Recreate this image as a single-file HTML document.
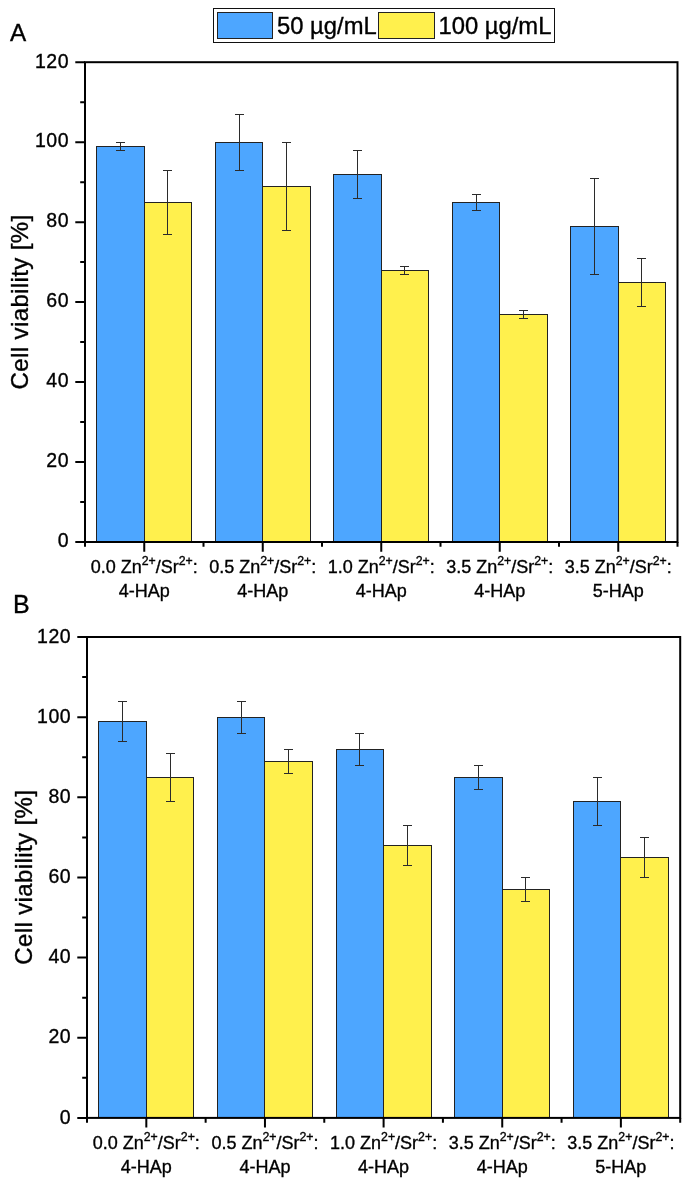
<!DOCTYPE html>
<html><head><meta charset="utf-8"><title>Cell viability</title>
<style>
html,body{margin:0;padding:0;background:#fff}
svg{display:block}
text{font-family:"Liberation Sans",Arial,sans-serif;fill:#000;stroke:#000;stroke-width:0.35px}
.tk{font-size:19.5px;letter-spacing:0.5px}
.xl{font-size:18px}
.sup{font-size:12.3px}
.yl{font-size:24px}
.lg{font-size:23.8px}
.pn{font-size:25px}
</style></head><body>
<svg width="690" height="1182" viewBox="0 0 690 1182">
<rect width="690" height="1182" fill="#fff"/>
<g shape-rendering="crispEdges"><rect x="213.5" y="8.5" width="341" height="34" fill="#fff" stroke="#111" stroke-width="1"/>
<rect x="217.5" y="12.5" width="55" height="26" fill="#4DA6FF" stroke="#222" stroke-width="1"/>
<rect x="378.5" y="12.5" width="56" height="26" fill="#FFF04D" stroke="#222" stroke-width="1"/></g>
<text class="lg" x="277" y="34.1">50 µg/mL</text>
<text class="lg" x="438.5" y="34.1">100 µg/mL</text>
<text class="pn" x="10" y="41.1" style="font-size:24.3px">A</text>
<text class="pn" x="12.9" y="613.1">B</text>
<g shape-rendering="crispEdges">
<rect x="96.5" y="146.5" width="48.0" height="395.50" fill="#4DA6FF" stroke="#222" stroke-width="1"/>
<rect x="144.5" y="202.5" width="47.0" height="339.50" fill="#FFF04D" stroke="#222" stroke-width="1"/>
<path d="M120.5 142.5V150.5M116.0 142.5h9M116.0 150.5h9" stroke="#2b2b2b" stroke-width="1" fill="none"/>
<path d="M167.5 170.5V234.5M163.0 170.5h9M163.0 234.5h9" stroke="#2b2b2b" stroke-width="1" fill="none"/>
<rect x="215.5" y="142.5" width="47.0" height="399.50" fill="#4DA6FF" stroke="#222" stroke-width="1"/>
<rect x="262.5" y="186.5" width="48.0" height="355.50" fill="#FFF04D" stroke="#222" stroke-width="1"/>
<path d="M239.5 114.5V170.5M235.0 114.5h9M235.0 170.5h9" stroke="#2b2b2b" stroke-width="1" fill="none"/>
<path d="M286.5 142.5V230.5M282.0 142.5h9M282.0 230.5h9" stroke="#2b2b2b" stroke-width="1" fill="none"/>
<rect x="333.5" y="174.5" width="48.0" height="367.50" fill="#4DA6FF" stroke="#222" stroke-width="1"/>
<rect x="381.5" y="270.5" width="47.0" height="271.50" fill="#FFF04D" stroke="#222" stroke-width="1"/>
<path d="M357.5 150.5V198.5M353.0 150.5h9M353.0 198.5h9" stroke="#2b2b2b" stroke-width="1" fill="none"/>
<path d="M404.5 266.5V274.5M400.0 266.5h9M400.0 274.5h9" stroke="#2b2b2b" stroke-width="1" fill="none"/>
<rect x="452.5" y="202.5" width="47.0" height="339.50" fill="#4DA6FF" stroke="#222" stroke-width="1"/>
<rect x="499.5" y="314.5" width="48.0" height="227.50" fill="#FFF04D" stroke="#222" stroke-width="1"/>
<path d="M476.5 194.5V210.5M472.0 194.5h9M472.0 210.5h9" stroke="#2b2b2b" stroke-width="1" fill="none"/>
<path d="M523.5 310.5V318.5M519.0 310.5h9M519.0 318.5h9" stroke="#2b2b2b" stroke-width="1" fill="none"/>
<rect x="570.5" y="226.5" width="48.0" height="315.50" fill="#4DA6FF" stroke="#222" stroke-width="1"/>
<rect x="618.5" y="282.5" width="47.0" height="259.50" fill="#FFF04D" stroke="#222" stroke-width="1"/>
<path d="M594.5 178.5V274.5M590.0 178.5h9M590.0 274.5h9" stroke="#2b2b2b" stroke-width="1" fill="none"/>
<path d="M641.5 258.5V306.5M637.0 258.5h9M637.0 306.5h9" stroke="#2b2b2b" stroke-width="1" fill="none"/>
</g>
<rect x="85.00" y="62.20" width="592.50" height="479.80" fill="none" stroke="#000" stroke-width="2"/>
<path d="M85.00 542.00h-9.7M85.00 502.02h-4.8M85.00 462.03h-9.7M85.00 422.05h-4.8M85.00 382.07h-9.7M85.00 342.08h-4.8M85.00 302.10h-9.7M85.00 262.12h-4.8M85.00 222.13h-9.7M85.00 182.15h-4.8M85.00 142.17h-9.7M85.00 102.18h-4.8M85.00 62.20h-9.7M85.00 542.00v4.8M203.50 542.00v4.8M322.00 542.00v4.8M440.50 542.00v4.8M559.00 542.00v4.8M677.50 542.00v4.8M144.25 542.00v9.7M262.75 542.00v9.7M381.25 542.00v9.7M499.75 542.00v9.7M618.25 542.00v9.7" stroke="#000" stroke-width="2" fill="none"/>
<text class="tk" x="69.05" y="547.30" text-anchor="end">0</text>
<text class="tk" x="69.05" y="467.33" text-anchor="end">20</text>
<text class="tk" x="69.05" y="387.37" text-anchor="end">40</text>
<text class="tk" x="69.05" y="307.40" text-anchor="end">60</text>
<text class="tk" x="69.05" y="227.43" text-anchor="end">80</text>
<text class="tk" x="69.05" y="147.47" text-anchor="end">100</text>
<text class="tk" x="69.05" y="67.50" text-anchor="end">120</text>
<text class="xl" x="144.25" y="573.20" text-anchor="middle">0.0 Zn<tspan class="sup" dy="-8.5">2+</tspan><tspan dy="8.5">/Sr</tspan><tspan class="sup" dy="-8.5">2+</tspan><tspan dy="8.5">:</tspan></text>
<text class="xl" x="144.25" y="596.70" text-anchor="middle">4-HAp</text>
<text class="xl" x="262.75" y="573.20" text-anchor="middle">0.5 Zn<tspan class="sup" dy="-8.5">2+</tspan><tspan dy="8.5">/Sr</tspan><tspan class="sup" dy="-8.5">2+</tspan><tspan dy="8.5">:</tspan></text>
<text class="xl" x="262.75" y="596.70" text-anchor="middle">4-HAp</text>
<text class="xl" x="381.25" y="573.20" text-anchor="middle">1.0 Zn<tspan class="sup" dy="-8.5">2+</tspan><tspan dy="8.5">/Sr</tspan><tspan class="sup" dy="-8.5">2+</tspan><tspan dy="8.5">:</tspan></text>
<text class="xl" x="381.25" y="596.70" text-anchor="middle">4-HAp</text>
<text class="xl" x="499.75" y="573.20" text-anchor="middle">3.5 Zn<tspan class="sup" dy="-8.5">2+</tspan><tspan dy="8.5">/Sr</tspan><tspan class="sup" dy="-8.5">2+</tspan><tspan dy="8.5">:</tspan></text>
<text class="xl" x="499.75" y="596.70" text-anchor="middle">4-HAp</text>
<text class="xl" x="618.25" y="573.20" text-anchor="middle">3.5 Zn<tspan class="sup" dy="-8.5">2+</tspan><tspan dy="8.5">/Sr</tspan><tspan class="sup" dy="-8.5">2+</tspan><tspan dy="8.5">:</tspan></text>
<text class="xl" x="618.25" y="596.70" text-anchor="middle">5-HAp</text>
<text class="yl" transform="translate(28.2 302.10) rotate(-90)" text-anchor="middle" textLength="174.7">Cell viability [%]</text>
<g shape-rendering="crispEdges">
<rect x="98.5" y="721.5" width="48.0" height="396.40" fill="#4DA6FF" stroke="#222" stroke-width="1"/>
<rect x="146.5" y="777.5" width="47.0" height="340.40" fill="#FFF04D" stroke="#222" stroke-width="1"/>
<path d="M122.5 701.5V741.5M118.0 701.5h9M118.0 741.5h9" stroke="#2b2b2b" stroke-width="1" fill="none"/>
<path d="M170.5 753.5V801.5M166.0 753.5h9M166.0 801.5h9" stroke="#2b2b2b" stroke-width="1" fill="none"/>
<rect x="217.5" y="717.5" width="47.0" height="400.40" fill="#4DA6FF" stroke="#222" stroke-width="1"/>
<rect x="264.5" y="761.5" width="48.0" height="356.40" fill="#FFF04D" stroke="#222" stroke-width="1"/>
<path d="M241.5 701.5V733.5M237.0 701.5h9M237.0 733.5h9" stroke="#2b2b2b" stroke-width="1" fill="none"/>
<path d="M288.5 749.5V773.5M284.0 749.5h9M284.0 773.5h9" stroke="#2b2b2b" stroke-width="1" fill="none"/>
<rect x="336.5" y="749.5" width="47.0" height="368.40" fill="#4DA6FF" stroke="#222" stroke-width="1"/>
<rect x="383.5" y="845.5" width="48.0" height="272.40" fill="#FFF04D" stroke="#222" stroke-width="1"/>
<path d="M359.5 733.5V765.5M355.0 733.5h9M355.0 765.5h9" stroke="#2b2b2b" stroke-width="1" fill="none"/>
<path d="M407.5 825.5V865.5M403.0 825.5h9M403.0 865.5h9" stroke="#2b2b2b" stroke-width="1" fill="none"/>
<rect x="454.5" y="777.5" width="48.0" height="340.40" fill="#4DA6FF" stroke="#222" stroke-width="1"/>
<rect x="502.5" y="889.5" width="47.0" height="228.40" fill="#FFF04D" stroke="#222" stroke-width="1"/>
<path d="M478.5 765.5V789.5M474.0 765.5h9M474.0 789.5h9" stroke="#2b2b2b" stroke-width="1" fill="none"/>
<path d="M525.5 877.5V901.5M521.0 877.5h9M521.0 901.5h9" stroke="#2b2b2b" stroke-width="1" fill="none"/>
<rect x="573.5" y="801.5" width="47.0" height="316.40" fill="#4DA6FF" stroke="#222" stroke-width="1"/>
<rect x="620.5" y="857.5" width="48.0" height="260.40" fill="#FFF04D" stroke="#222" stroke-width="1"/>
<path d="M597.5 777.5V825.5M593.0 777.5h9M593.0 825.5h9" stroke="#2b2b2b" stroke-width="1" fill="none"/>
<path d="M644.5 837.5V877.5M640.0 837.5h9M640.0 877.5h9" stroke="#2b2b2b" stroke-width="1" fill="none"/>
</g>
<rect x="87.00" y="637.00" width="593.20" height="480.90" fill="none" stroke="#000" stroke-width="2"/>
<path d="M87.00 1117.90h-9.7M87.00 1077.83h-4.8M87.00 1037.75h-9.7M87.00 997.68h-4.8M87.00 957.60h-9.7M87.00 917.53h-4.8M87.00 877.45h-9.7M87.00 837.38h-4.8M87.00 797.30h-9.7M87.00 757.22h-4.8M87.00 717.15h-9.7M87.00 677.08h-4.8M87.00 637.00h-9.7M87.00 1117.90v4.8M205.64 1117.90v4.8M324.28 1117.90v4.8M442.92 1117.90v4.8M561.56 1117.90v4.8M680.20 1117.90v4.8M146.32 1117.90v9.7M264.96 1117.90v9.7M383.60 1117.90v9.7M502.24 1117.90v9.7M620.88 1117.90v9.7" stroke="#000" stroke-width="2" fill="none"/>
<text class="tk" x="71.15" y="1123.50" text-anchor="end">0</text>
<text class="tk" x="71.15" y="1043.35" text-anchor="end">20</text>
<text class="tk" x="71.15" y="963.20" text-anchor="end">40</text>
<text class="tk" x="71.15" y="883.05" text-anchor="end">60</text>
<text class="tk" x="71.15" y="802.90" text-anchor="end">80</text>
<text class="tk" x="71.15" y="722.75" text-anchor="end">100</text>
<text class="tk" x="71.15" y="642.60" text-anchor="end">120</text>
<text class="xl" x="146.32" y="1149.10" text-anchor="middle">0.0 Zn<tspan class="sup" dy="-8.5">2+</tspan><tspan dy="8.5">/Sr</tspan><tspan class="sup" dy="-8.5">2+</tspan><tspan dy="8.5">:</tspan></text>
<text class="xl" x="146.32" y="1172.60" text-anchor="middle">4-HAp</text>
<text class="xl" x="264.96" y="1149.10" text-anchor="middle">0.5 Zn<tspan class="sup" dy="-8.5">2+</tspan><tspan dy="8.5">/Sr</tspan><tspan class="sup" dy="-8.5">2+</tspan><tspan dy="8.5">:</tspan></text>
<text class="xl" x="264.96" y="1172.60" text-anchor="middle">4-HAp</text>
<text class="xl" x="383.60" y="1149.10" text-anchor="middle">1.0 Zn<tspan class="sup" dy="-8.5">2+</tspan><tspan dy="8.5">/Sr</tspan><tspan class="sup" dy="-8.5">2+</tspan><tspan dy="8.5">:</tspan></text>
<text class="xl" x="383.60" y="1172.60" text-anchor="middle">4-HAp</text>
<text class="xl" x="502.24" y="1149.10" text-anchor="middle">3.5 Zn<tspan class="sup" dy="-8.5">2+</tspan><tspan dy="8.5">/Sr</tspan><tspan class="sup" dy="-8.5">2+</tspan><tspan dy="8.5">:</tspan></text>
<text class="xl" x="502.24" y="1172.60" text-anchor="middle">4-HAp</text>
<text class="xl" x="620.88" y="1149.10" text-anchor="middle">3.5 Zn<tspan class="sup" dy="-8.5">2+</tspan><tspan dy="8.5">/Sr</tspan><tspan class="sup" dy="-8.5">2+</tspan><tspan dy="8.5">:</tspan></text>
<text class="xl" x="620.88" y="1172.60" text-anchor="middle">5-HAp</text>
<text class="yl" transform="translate(31.9 877.45) rotate(-90)" text-anchor="middle" textLength="174.7">Cell viability [%]</text>
</svg>
</body></html>
